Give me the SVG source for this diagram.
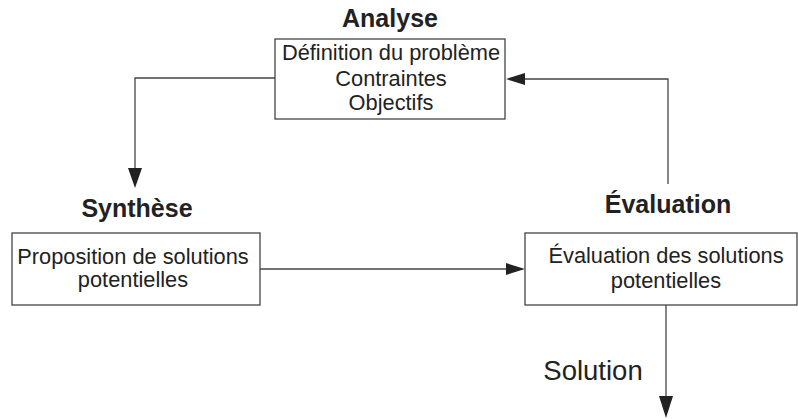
<svg xmlns="http://www.w3.org/2000/svg" width="798" height="419" viewBox="0 0 798 419">
<defs>
<style>
.box{fill:#fff;stroke:#444;stroke-width:1.3}
.t{font-family:"Liberation Sans",Arial,sans-serif;font-size:21.8px;fill:#222;text-anchor:middle}
.h{font-family:"Liberation Sans",Arial,sans-serif;font-size:25px;font-weight:bold;fill:#222;text-anchor:middle}
.c{fill:none;stroke:#444;stroke-width:1.3}
.ah{fill:#222}
</style>
</defs>
<rect width="798" height="419" fill="#fff"/>
<g id="connectors">
<polyline class="c" points="275,78 135,78 135,170"/>
<polygon class="ah" points="128,168 142,168 135,188"/>
<polyline class="c" points="668,184 668,79 523,79"/>
<polygon class="ah" points="506,79 525,73 525,85"/>
<line class="c" x1="260" y1="269" x2="507" y2="269"/>
<polygon class="ah" points="525,269 506,263 506,275"/>
<line class="c" x1="666" y1="305" x2="666" y2="398"/>
<polygon class="ah" points="659,396 673,396 666,418"/>
<text class="t" x="593" y="380" style="font-size:27.5px">Solution</text>
</g>
<g id="analyse">
<text class="h" x="390" y="27">Analyse</text>
<rect class="box" x="275" y="39" width="230" height="80"/>
<text class="t" x="391" y="60">Définition du problème</text>
<text class="t" x="391" y="85.5">Contraintes</text>
<text class="t" x="391" y="110">Objectifs</text>
</g>
<g id="synthese">
<text class="h" x="137" y="217">Synthèse</text>
<rect class="box" x="12" y="233" width="248" height="72"/>
<text class="t" x="133" y="264">Proposition de solutions</text>
<text class="t" x="133" y="287">potentielles</text>
</g>
<g id="evaluation">
<text class="h" x="668" y="213">Évaluation</text>
<rect class="box" x="525" y="233" width="272" height="72"/>
<text class="t" x="666" y="263">Évaluation des solutions</text>
<text class="t" x="666" y="288">potentielles</text>
</g>
</svg>
